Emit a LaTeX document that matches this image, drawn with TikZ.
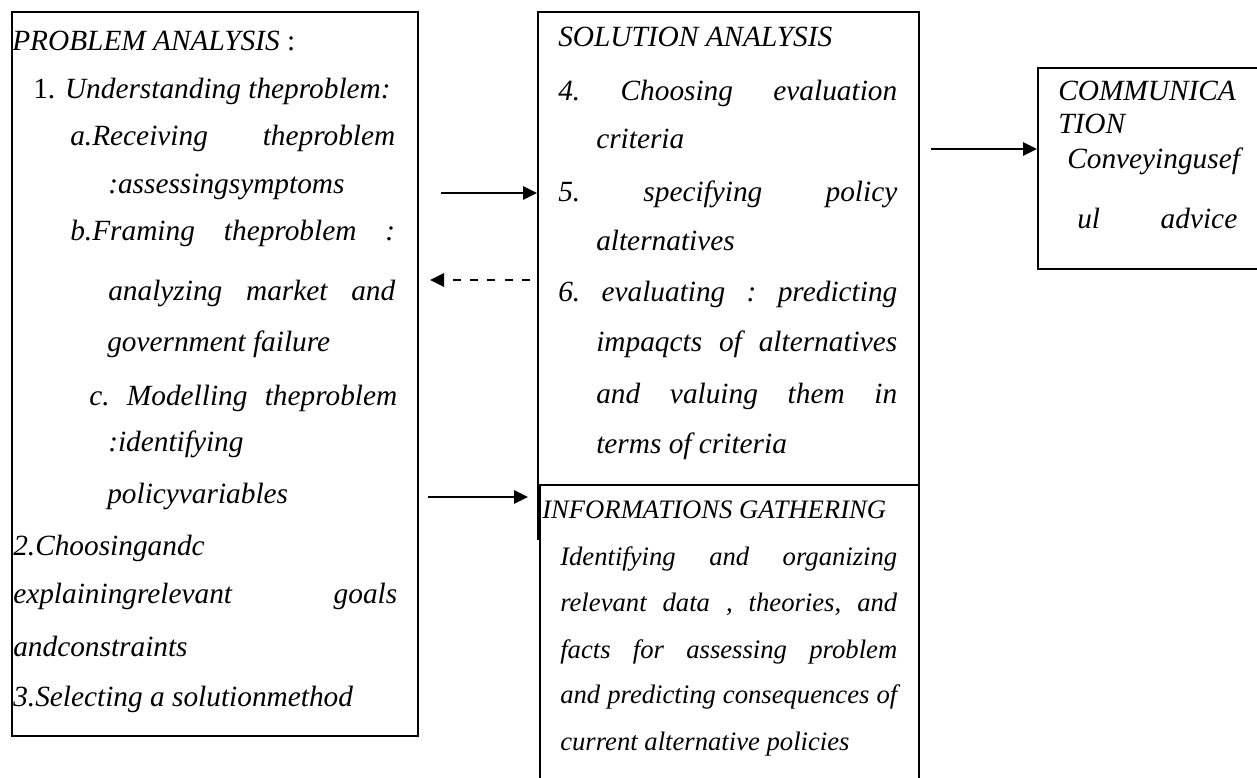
\documentclass[tikz,border=0pt]{standalone}
\usepackage{fontspec}
\setmainfont{Liberation Serif}
\usetikzlibrary{arrows.meta}
\newdimen\pxu \pxu=0.75pt
\begin{document}
\begin{tikzpicture}[x=0.75pt,y=-0.75pt,
  box/.style={draw,line width=1.2pt,inner sep=0,anchor=north west},
  txt/.style={anchor=base west,inner sep=0,font=\fontsize{22}{26}\selectfont\itshape},
  stxt/.style={anchor=base west,inner sep=0,font=\fontsize{20}{24}\selectfont\itshape},
  arr/.style={line width=1.2pt,-{Triangle[length=10.5pt,width=10pt]}},
  darr/.style={arr,dash pattern=on 6pt off 7pt}]
\useasboundingbox (0,0) rectangle (1257,778);
\clip (0,0) rectangle (1257,778);
% boxes
\node[box,minimum width=406*0.75pt,minimum height=724*0.75pt] (prob) at (11,11) {};
\node[box,minimum width=381*0.75pt,minimum height=527*0.75pt] (sol) at (537,11) {};
\node[box,fill=white,minimum width=379*0.75pt,minimum height=330*0.75pt] (info) at (539,484) {};
\node[box,minimum width=240*0.75pt,minimum height=201*0.75pt] (comm) at (1037,67) {};
% problem analysis text
\node[txt] (p1) at (12,50) {PROBLEM ANALYSIS\upshape\ :};
\node[txt] (p2) at (33,98) {{\upshape 1.} Understanding theproblem:};
\node[txt] (p3) at (70,145) {\hbox to 325\pxu{a.Receiving\hfill theproblem}};
\node[txt] (p4) at (108,193) {:assessingsymptoms};
\node[txt] (p5) at (70,240) {\hbox to 325\pxu{b.Framing\hfill theproblem\hfill :}};
\node[txt] (p6) at (108,300) {\hbox to 287\pxu{analyzing\hfill market\hfill and}};
\node[txt] (p7) at (107,351) {government failure};
\node[txt] (p8) at (89,405) {\hbox to 308\pxu{c.\hfill Modelling\hfill theproblem}};
\node[txt] (p9) at (108,451) {:identifying};
\node[txt] (p10) at (107,503) {policyvariables};
\node[txt] (p11) at (13,555) {2.Choosingandc};
\node[txt] (p12) at (13,603) {\hbox to 384\pxu{explainingrelevant\hfill goals}};
\node[txt] (p13) at (13,656) {andconstraints};
\node[txt] (p14) at (13,706) {3.Selecting a solutionmethod};
% solution analysis text
\node[txt] (s1) at (558,46) {SOLUTION ANALYSIS};
\node[txt] (s2) at (558,100) {\hbox to 339\pxu{4.\hfill Choosing\hfill evaluation}};
\node[txt] (s3) at (596,148) {criteria};
\node[txt] (s4) at (558,201) {\hbox to 339\pxu{5.\hfill specifying\hfill policy}};
\node[txt] (s5) at (596,250) {alternatives};
\node[txt] (s6) at (558,301) {\hbox to 339\pxu{6.\hfill evaluating\hfill :\hfill predicting}};
\node[txt] (s7) at (596,351) {\hbox to 301\pxu{impaqcts\hfill of\hfill alternatives}};
\node[txt] (s8) at (596,403) {\hbox to 301\pxu{and\hfill valuing\hfill them\hfill in}};
\node[txt] (s9) at (596,453) {terms of criteria};
% information gathering text
\node[stxt] (i1) at (542,518) {INFORMATIONS GATHERING};
\node[stxt] (i2) at (560,565) {\hbox to 337\pxu{Identifying\hfill and\hfill organizing}};
\node[stxt] (i3) at (560,611) {\hbox to 337\pxu{relevant\hfill data\hfill ,\hfill theories,\hfill and}};
\node[stxt] (i4) at (560,658) {\hbox to 337\pxu{facts\hfill for\hfill assessing\hfill problem}};
\node[stxt] (i5) at (560,703) {\hbox to 337\pxu{and predicting consequences of}};
\node[stxt] (i6) at (560,750) {current alternative policies};
% communication text
\node[txt] (c1) at (1058,100) {COMMUNICA};
\node[txt] (c2) at (1058,133) {TION};
\node[txt] (c3) at (1067,168) {Conveyingusef};
\node[txt] (c4) at (1077,228) {\hbox to 160\pxu{ul\hfill advice}};
% connectors
\coordinate (a1) at (441,193);
\coordinate (d1) at (530,280);
\coordinate (d2) at (430,280);
\coordinate (b1) at (428,497);
\coordinate (b2) at (528,497);
\coordinate (e1) at (931,149);
\draw[arr] (a1) -- (a1 -| sol.west);
\draw[darr] (d1) -- (d2);
\draw[arr] (b1) -- (b2);
\draw[arr] (e1) -- (e1 -| comm.west);
\end{tikzpicture}
\end{document}
